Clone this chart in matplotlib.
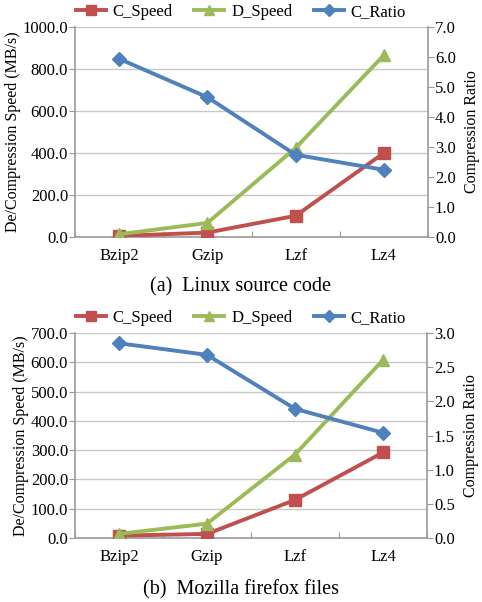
import numpy as np
import matplotlib
matplotlib.use("Agg")
import matplotlib.pyplot as plt

plt.rcParams['font.family'] = ['Liberation Serif', 'DejaVu Serif']

cats = ['Bzip2', 'Gzip', 'Lzf', 'Lz4']

# (a) Linux source code
a_cspeed = [5, 21, 101, 400]
a_dspeed = [13, 67, 424, 866]
a_ratio = [5.94, 4.66, 2.74, 2.24]

# (b) Mozilla firefox files
b_cspeed = [8, 14, 130, 292]
b_dspeed = [14, 49, 285, 608]
b_ratio = [2.85, 2.68, 1.89, 1.54]

red = '#C0504D'
green = '#9BBB59'
blue = '#4F81BD'
gray = '#9A9A9A'

W, H = 482, 602
fig = plt.figure(figsize=(W/100, H/100), dpi=100)


def panel(rect, cs, ds, cr, lmax, lstep, rmax, rstep, rfmt, caption, cap_y, leg_y):
    ax = fig.add_axes(rect)
    x = np.arange(len(cats))
    ax.plot(x, cs, color=red, lw=2.8, marker='s', ms=8, label='C_Speed', zorder=3)
    ax.plot(x, ds, color=green, lw=2.8, marker='^', ms=8, label='D_Speed', zorder=3)
    ax.set_ylim(0, lmax)
    ax.set_yticks(np.arange(0, lmax + 1, lstep))
    ax.set_yticklabels(['%.1f' % v for v in np.arange(0, lmax + 1, lstep)])
    ax.set_xlim(-0.5, len(cats) - 0.5)
    ax.set_xticks(np.arange(-0.5, len(cats), 1.0))
    ax.set_xticklabels([])
    ax.set_xticks(x, minor=True)
    ax.set_xticklabels(cats, minor=True)
    ax.tick_params(axis='x', which='minor', length=0, pad=8, labelsize=12)
    ax.tick_params(axis='x', which='major', length=4, color=gray, direction='in')
    ax.tick_params(axis='y', length=4, color=gray, labelsize=12, pad=1)
    ax.yaxis.grid(True, color='#C8C8C8', lw=1)
    ax.set_axisbelow(True)
    for s in ['top', 'right']:
        ax.spines[s].set_visible(False)
    for s in ['left', 'bottom']:
        ax.spines[s].set_color(gray)
        ax.spines[s].set_linewidth(1.2)
    ax.set_ylabel('De/Compression Speed (MB/s)', fontsize=11.5, labelpad=1)

    ax2 = ax.twinx()
    ax2.plot(x, cr, color=blue, lw=2.8, marker='D', ms=7, label='C_Ratio', zorder=3)
    ax2.set_ylim(0, rmax)
    rt = np.arange(0, rmax + 1e-9, rstep)
    ax2.set_yticks(rt)
    ax2.set_yticklabels([rfmt % v for v in rt])
    ax2.tick_params(axis='y', length=4, color=gray, labelsize=12, pad=1)
    for s in ['top', 'left', 'bottom']:
        ax2.spines[s].set_visible(False)
    ax2.spines['right'].set_color(gray)
    ax2.spines['right'].set_linewidth(1.2)
    ax2.set_ylabel('Compression Ratio', fontsize=11.5, labelpad=6)

    h1, l1 = ax.get_legend_handles_labels()
    h2, l2 = ax2.get_legend_handles_labels()
    fig.legend(h1 + h2, l1 + l2, loc='center', bbox_to_anchor=(0.5, leg_y),
               ncol=3, frameon=False, fontsize=12, handlelength=1.8,
               markerscale=0.85, columnspacing=1.3, handletextpad=0.4,
               borderaxespad=0)
    fig.text(0.5, cap_y, caption, ha='center', va='center', fontsize=14.5)


# axes rects in figure fractions (pixel based)
def rect(l, r, t, b):
    return [l / W, 1 - b / H, (r - l) / W, (b - t) / H]


panel(rect(75, 428, 27, 237), a_cspeed, a_dspeed, a_ratio, 1000, 200, 7.0, 1.0, '%.1f',
      '(a)  Linux source code', 1 - 287 / H, 1 - 12 / H)
panel(rect(75, 427, 333, 538), b_cspeed, b_dspeed, b_ratio, 700, 100, 3.0, 0.5, '%.1f',
      '(b)  Mozilla firefox files', 1 - 590 / H, 1 - 318 / H)

fig.savefig('out.png', dpi=100)
